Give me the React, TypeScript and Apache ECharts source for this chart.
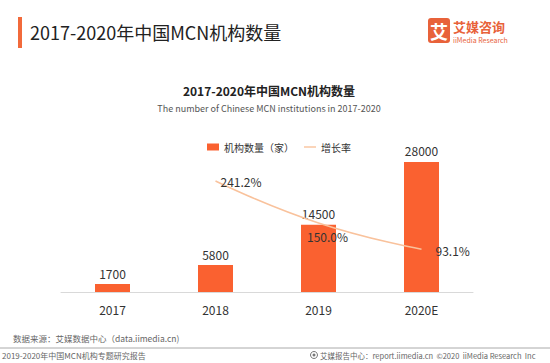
import React, { useEffect, useRef } from "react";
import * as echarts from "echarts";

const categories = ["2017", "2018", "2019", "2020E"];
const institutionCounts = [1700, 5800, 14500, 28000];
const growthRates: (number | null)[] = [null, 241.2, 150.0, 93.1];

const FONT = "'Noto Sans CJK SC', 'Noto Sans', sans-serif";
const ORANGE = "#FA6130";
const PEACH = "#F9C29C";
const BRAND = "#E8623A";

export default function App() {
  const ref = useRef<HTMLDivElement>(null);
  useEffect(() => {
    if (!ref.current) return;
    const chart = echarts.init(ref.current, undefined, { renderer: "svg" });
    chart.setOption({
      animation: false,
      backgroundColor: "#ffffff",
      textStyle: { fontFamily: FONT },
      title: [
        {
          text: "2017-2020年中国MCN机构数量",
          left: 264,
          textAlign: "center",
          top: 79,
          textStyle: { fontSize: 12, fontWeight: "bold", color: "#222", fontFamily: FONT },
        },
        {
          text: "The number of Chinese MCN institutions in 2017-2020",
          left: 264,
          textAlign: "center",
          top: 99,
          textStyle: { fontSize: 9, fontWeight: "normal", color: "#555", fontFamily: FONT },
        },
      ],
      legend: {
        top: 137,
        left: 202,
        itemWidth: 12,
        itemHeight: 7,
        itemGap: 10,
        textStyle: { fontSize: 10, color: "#333", fontFamily: FONT },
        data: [
          { name: "机构数量（家）", icon: "rect" },
          { name: "增长率", icon: "path://M0,0 L26,0 L26,3 L0,3 Z", itemStyle: { color: PEACH } },
        ],
      },
      grid: { left: 61, right: 77, top: 154, bottom: 71, containLabel: false },
      xAxis: {
        type: "category",
        data: categories,
        axisLine: { lineStyle: { color: "#d9d9d9", width: 1 } },
        axisTick: { show: false },
        axisLabel: { fontSize: 12, color: "#333", margin: 11, fontFamily: FONT },
      },
      yAxis: [
        { type: "value", min: 0, max: 29700, show: false, splitLine: { show: false } },
        { type: "value", min: 0, max: 300, show: false, splitLine: { show: false } },
      ],
      series: [
        {
          name: "机构数量（家）",
          type: "bar",
          data: institutionCounts,
          barWidth: 35,
          itemStyle: { color: ORANGE },
          label: {
            show: true,
            position: "top",
            distance: 5,
            fontSize: 12,
            color: "#333",
            fontFamily: FONT,
          },
          z: 2,
        },
        {
          name: "增长率",
          type: "line",
          yAxisIndex: 1,
          data: growthRates.map((v, i) => {
            if (v === null) return "-";
            if (i === 2) {
              return { value: v, label: { position: "bottom", offset: [9, 2] } };
            }
            if (i === 3) {
              return { value: v, label: { offset: [9, 1] } };
            }
            return { value: v };
          }),
          smooth: true,
          symbol: "circle",
          symbolSize: 0.01,
          showSymbol: true,
          lineStyle: { color: PEACH, width: 1.5 },
          itemStyle: { color: PEACH },
          label: {
            show: true,
            formatter: (p: any) => Number(p.value).toFixed(1) + "%",
            position: "right",
            distance: 5,
            fontSize: 12,
            color: "#333",
            fontFamily: FONT,
          },
          z: 3,
        },
      ],
      graphic: [
        { type: "rect", shape: { x: 18, y: 17, width: 4, height: 31 }, style: { fill: "#F26A3B" } },
        {
          type: "text",
          x: 30,
          y: 32,
          style: {
            text: "2017-2020年中国MCN机构数量",
            font: `18px ${FONT}`,
            fill: "#222",
            verticalAlign: "middle",
          },
        },
        { type: "rect", shape: { x: 428, y: 18, width: 22, height: 25, r: 3 }, style: { fill: BRAND } },
        {
          type: "text",
          x: 439,
          y: 31,
          style: {
            text: "艾",
            font: `bold 18px ${FONT}`,
            fill: "#fff",
            align: "center",
            verticalAlign: "middle",
          },
        },
        {
          type: "text",
          x: 453,
          y: 26,
          style: {
            text: "艾媒咨询",
            font: `bold 13px ${FONT}`,
            fill: BRAND,
            verticalAlign: "middle",
          },
        },
        {
          type: "text",
          x: 453,
          y: 40,
          style: {
            text: "iiMedia Research",
            font: `7px ${FONT}`,
            fill: BRAND,
            verticalAlign: "middle",
          },
        },
        {
          type: "text",
          x: 13,
          y: 338,
          style: {
            text: "数据来源：艾媒数据中心（data.iimedia.cn)",
            font: `8.5px ${FONT}`,
            fill: "#666",
            verticalAlign: "middle",
          },
        },
        { type: "line", shape: { x1: 0, y1: 348, x2: 550, y2: 348 }, style: { stroke: "#aaa", lineWidth: 1 } },
        {
          type: "text",
          x: 2,
          y: 355,
          style: {
            text: "2019-2020年中国MCN机构专题研究报告",
            font: `8px ${FONT}`,
            fill: "#666",
            verticalAlign: "middle",
          },
        },
        { type: "circle", shape: { cx: 314, cy: 355, r: 3.5 }, style: { fill: "none", stroke: "#777", lineWidth: 1 } },
        { type: "circle", shape: { cx: 314, cy: 355, r: 1.5 }, style: { fill: "#777" } },
        {
          type: "text",
          x: 320,
          y: 355,
          style: {
            text: "艾媒报告中心：report.iimedia.cn  ©2020  iiMedia Research  Inc",
            font: `7.5px ${FONT}`,
            fill: "#666",
            verticalAlign: "middle",
          },
        },
      ],
    });
    return () => chart.dispose();
  }, []);
  return (
    <div
      ref={ref}
      style={{ position: "fixed", left: 0, top: 0, width: 550, height: 363, background: "#fff" }}
    />
  );
}
